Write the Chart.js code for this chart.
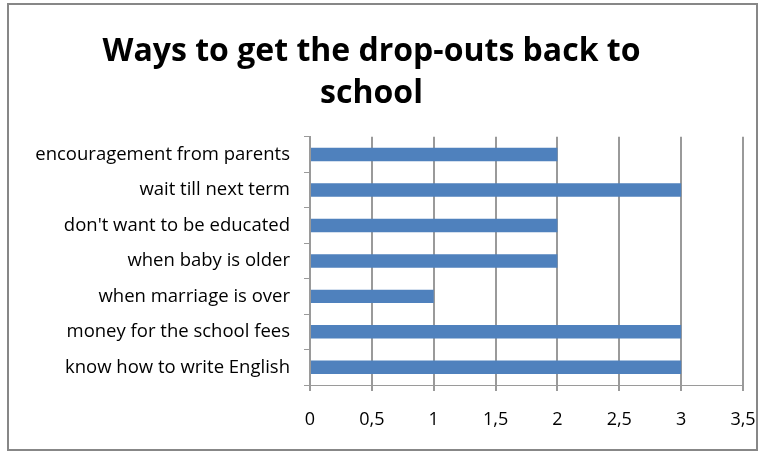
<!DOCTYPE html>
<html>
<head>
<meta charset="utf-8">
<script src="https://cdn.jsdelivr.net/npm/chart.js@4"></script>
<style>
  html, body { margin: 0; padding: 0; background: #fff; }
  #wrap { width: 768px; height: 452px; }
</style>
</head>
<body>
<div id="wrap"><canvas id="chart" width="768" height="452"></canvas></div>
<script>
const reasons = [
  "encouragement from parents",
  "wait till next term",
  "don't want to be educated",
  "when baby is older",
  "when marriage is over",
  "money for the school fees",
  "know how to write English"
];
const counts = [2, 3, 2, 2, 1, 3, 3];
const titleLines = ["Ways to get the drop-outs back to", "school"];

const colorBar = "#4F81BD";
const colorGrid = "#9a9a9a";

// grey frame round the whole chart
const frame = {
  id: "frame",
  beforeDraw(chart) {
    const ctx = chart.ctx;
    ctx.save();
    ctx.fillStyle = "#fff";
    ctx.fillRect(0, 0, chart.width, chart.height);
    ctx.strokeStyle = "#878787";
    ctx.lineWidth = 2;
    ctx.strokeRect(8, 4, 749, 446);
    ctx.restore();
  }
};

new Chart(document.getElementById("chart"), {
  type: "bar",
  data: {
    labels: reasons,
    datasets: [{
      data: counts,
      backgroundColor: colorBar,
      barPercentage: 0.38,
      categoryPercentage: 1
    }]
  },
  plugins: [frame],
  options: {
    indexAxis: "y",
    responsive: false,
    animation: false,
    layout: { padding: { top: 0, right: 25, bottom: 0, left: 0 } },
    plugins: {
      legend: { display: false },
      tooltip: { enabled: false },
      title: {
        display: true,
        text: titleLines,
        color: "#000",
        font: { family: "Open Sans", size: 32, weight: "bold", lineHeight: 1.31 },
        padding: { top: 31, bottom: 22 }
      }
    },
    scales: {
      x: {
        min: 0,
        max: 3.5,
        ticks: {
          stepSize: 0.5,
          color: "#000",
          padding: 18,
          font: { family: "Open Sans", size: 18 },
          callback: v => String(v).replace(".", ",")
        },
        grid: { color: colorGrid, lineWidth: 2, tickLength: 6 },
        border: { color: colorGrid, width: 1 },
        afterFit: s => { s.height = 67; s.paddingLeft = 0; s.paddingRight = 0; }
      },
      y: {
        ticks: {
          color: "#000",
          padding: 14,
          font: { family: "Open Sans", size: 18.5 }
        },
        grid: { offset: true, drawOnChartArea: false, color: colorGrid, tickLength: 6 },
        border: { color: colorGrid, width: 2 },
        afterFit: s => { s.width = 310; }
      }
    }
  }
});
</script>
</body>
</html>
